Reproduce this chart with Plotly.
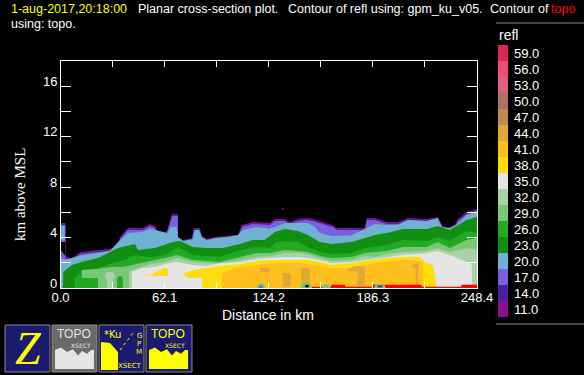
import plotly.graph_objects as go

W, H = 584, 375
LEVELS = ["11.0","14.0","17.0","20.0","23.0","26.0","29.0","32.0","35.0","38.0","41.0","44.0","47.0","50.0","53.0","56.0","59.0"]
COLORS = ["#8b1090","#4b1fa0","#7b5fe0","#70b0d0","#128f12","#22aa22","#78c878","#a8d3a8","#e5e5e5","#ffdd0a","#fdbe1e","#e0a838","#c08a50","#a87660","#e0607e","#f44a77","#d9294f"]
C = dict(zip(LEVELS, COLORS))
X_TICKS = [0, 31.05, 62.1, 93.15, 124.2, 155.25, 186.3, 217.35, 248.4]
X_TICK_TEXT = ["0.0", "", "62.1", "", "124.2", "", "186.3", "", "248.4"]
Y_TICKS = [0, 2, 4, 6, 8, 10, 12, 14, 16]
Y_LABELS = [0, 4, 8, 12, 16]

X_11 = [0,2.9,2.9,5.7,6.9,11.9,18.8,28.3,33.7,35.5,40.2,49.2,53.3,56.3,58.1,62.3,63.5,66.5,70,70.1,73,78.4,79.6,83.1,84.3,87.3,92.1,105.8,108.2,114.7,124.9,127.8,133.8,136.8,141.6,146.9,150.5,155.9,162.4,164.8,181.5,182.7,187.4,194.6,201.2,207.1,218.4,225,228,231,235.1,236.9,242.3,248.4]
H_11 = [5.16,5.16,2.54,2.38,2.38,2.86,2.94,3.1,3.25,4.05,4.76,4.76,5.08,4.92,4.52,4.44,4.52,5.87,5.87,4.05,3.81,3.97,4.76,4.76,4.13,3.89,4.05,4.21,4.99,5.24,5.16,5.48,5.48,5.24,5.48,5.56,5.48,5.24,5.0,4.76,4.76,5.56,5.56,5.24,5.24,5.56,5.48,5.63,4.92,4.76,5.0,5.48,6.03,6.27]
H_14 = [5.08,5.08,2.46,2.3,2.3,2.78,2.86,3.02,3.17,3.97,4.68,4.68,5.0,4.84,4.44,4.37,4.44,5.79,5.79,3.97,3.73,3.89,4.68,4.68,4.05,3.81,3.97,4.13,4.92,5.16,5.08,5.4,5.4,5.16,5.4,5.48,5.4,5.16,4.92,4.68,4.68,5.48,5.48,5.16,5.16,5.48,5.4,5.56,4.84,4.68,4.92,5.4,5.95,6.19]
H_17 = [5.0,5.0,2.38,2.22,2.22,2.7,2.78,2.94,3.1,3.89,4.6,4.6,4.92,4.76,4.37,4.29,4.37,5.71,5.71,3.89,3.65,3.81,4.6,4.6,3.97,3.73,3.89,4.05,4.84,5.08,5.0,5.32,5.32,5.08,5.32,5.4,5.32,5.08,4.84,4.6,4.6,5.4,5.4,5.08,5.08,5.4,5.32,5.48,4.76,4.6,4.84,5.32,5.87,6.11]
X_20 = [0,2.7,12.8,18.8,29.5,34.3,40.2,48.6,53.3,56.3,62.3,63.5,65.9,69.4,70,73,79,80.2,82.5,84.3,87.3,92.1,99.3,105.8,108.8,117.1,124.9,133.8,141.6,147.5,151.7,154.7,161.8,173.7,181.5,187.4,194.6,201.2,207.1,218.4,225,227.4,232.1,236.9,242.3,248.4]
H_20 = [2.38,2.22,2.62,2.7,2.94,3.65,4.37,4.44,4.68,4.6,4.37,4.37,4.84,4.84,4.05,3.73,3.89,4.6,4.6,4.05,3.81,3.97,4.05,4.21,4.6,4.84,4.7,5.16,5.16,5.16,4.84,4.37,4.13,4.21,4.68,5.08,5.0,5.0,5.4,5.32,5.56,4.84,4.76,5.08,5.79,6.03]
X_23 = [0,1.5,1.6,6.9,14.6,22.4,29.5,34.3,44.4,46.2,56.3,62.3,67.1,71.2,79,87.3,96.9,107,114.7,121.9,127.8,133.8,141.6,147.5,154.7,161.8,173.7,181.5,187.4,194.6,204.1,218.4,225,232.1,242.3,248.4]
H_23 = [0,0,1.27,1.83,2.14,2.38,2.86,3.17,3.49,3.02,3.17,3.41,3.65,3.73,3.25,3.17,3.17,3.49,3.81,3.81,4.44,4.68,4.52,4.21,3.65,3.49,3.65,3.97,4.21,4.37,4.68,4.68,4.92,4.6,5.4,5.63]
X_26 = [8.4,8.5,12.8,22.4,29.5,38.2,44.4,52.1,62.3,70,79,95.1,107,117.1,124.9,127.8,133.8,141.6,147.5,154.7,161.8,173.7,181.5,187.4,194.6,204.1,218.4,225,232.1,242.3,248.4]
H_26 = [0,0.79,1.43,1.59,1.9,2.22,2.62,2.46,2.62,3.25,2.62,2.46,3.02,3.25,3.17,3.57,3.73,3.65,3.25,2.86,2.7,2.78,3.17,3.25,3.41,3.81,3.73,4.05,3.73,4.52,4.37]
X_29 = [12.8,12.8,22.4,29.5,37,44.4,56.3,62.3,69.4,79,95.1,107,117.1,124.9,133.8,141.6,147.5,154.7,161.8,173.7,181.5,187.4,194.6,204.1,218.4,225,232.1,242.3,248.4]
H_29 = [0,1.43,1.51,1.67,1.67,1.9,2.22,2.38,2.62,2.22,2.06,2.46,2.78,2.78,3.02,2.94,2.86,2.54,2.38,2.46,2.78,2.86,2.94,3.25,3.25,3.65,3.17,3.81,3.97]
X_32 = [40.8,40.8,42.6,53.3,62.3,69.4,79,95.1,107,117.1,124.9,133.8,141.6,147.5,154.7,161.8,173.7,181.5,187.4,194.6,204.1,218.4,225,232.1,242.3,248.4]
H_32 = [0,1.27,1.43,1.9,2.06,2.38,2.06,1.9,2.22,2.46,2.54,2.78,2.78,2.7,2.38,2.14,2.22,2.54,2.46,2.7,2.86,2.94,3.17,2.86,3.17,3.02]
X_35 = [42.6,42.6,48.6,56.3,62.3,69.4,79,87.3,95.1,107,117.1,124.9,133.8,141.6,147.5,154.7,161.8,173.7,181.5,187.4,194.6,204.1,218.4,225,232.1,242.3,245.3,245.4]
H_35 = [0,1.27,1.59,1.67,1.9,2.06,1.83,1.75,1.98,2.06,2.3,2.38,2.46,2.46,2.38,2.22,1.98,2.06,2.22,2.3,2.46,2.62,2.78,2.94,2.62,2.06,1.9,0]
X_38 = [73,77.2,83.1,95.1,107,117.1,124.9,133.8,147.5,154.7,161.8,173.7,181.5,187.4,194.6,204.1,214.3,217.2,222,224.4,224.4,84.3,84.3,76.5]
H_38 = [1.11,1.35,1.51,1.75,1.9,2.14,2.22,2.22,2.22,2.06,1.83,1.98,2.14,2.22,2.38,2.46,2.46,2.06,1.83,0.08,0,0,0.79,0.79]
X_38B = [47.4,54,58,62,64,64,57]
H_38B = [1.05,1.05,1.35,1.6,1.5,0.95,0.95]
X_41 = [96.3,96.3,97.4,104,112.9,121.9,133.8,141.6,147.5,154.7,161.8,173.7,181.5,187.4,194.6,204.1,210.1,215.5,216,216.6]
H_41 = [0,1.03,1.27,1.59,1.75,1.9,1.98,1.98,1.9,1.75,1.59,1.59,1.83,1.98,2.06,2.22,2.22,2.06,1.8,0]
PATCH_X_44 = [[132.6,137.4,137.4,132.6],[143.3,148.7,148.7,143.6],[118.9,124.9,124.9,118.9],[171.3,176,181.5,181.5,177,177,171.3],[210.1,213.7,213.7,213.1,213.1,211.9,211.9,210.1]]
PATCH_H_44 = [[1.19,1.19,0.1,0.1],[1.59,1.59,0.25,0.25],[1.59,1.59,1.27,1.27],[1.5,1.75,1.75,0.1,0.1,1.3,1.3],[1.9,1.9,1.59,1.59,0.08,0.08,1.59,1.59]]
PATCH_X_26 = [[12.8,22.4,22.4,12.8],[33.7,34.5,36.5,37.2,37.2,33.7]]
PATCH_H_26 = [[0.8,0.8,0,0],[0.7,0.95,0.95,0.7,0,0]]
PATCH_X_32 = [26.5,27.5,31,32.5,31.5,31.5,27.8,27.8]
PATCH_H_32 = [1.0,1.27,1.27,1.0,0.6,0,0,0.6]
COL_X_20 = [0.4,2.5,2.5,0.4]
COL_H_20 = [4.92,4.92,3.8,3.8]
GAP_X = [0,2.9,2.9,0]
GAP_H = [3.65,3.65,2.54,3.02]
TOPO_X = [149.7,161.5,161.6,169.6,169.7,186.3,186.4,215.3,215.4,239,239.1,248.4]
TOPO_H = [0.1,0.1,0.25,0.25,0.1,0.1,0.25,0.25,0.1,0.1,0.25,0.25]
BUMP_X = [[117,118,121,122],[143,144.5,149,150],[156,157,160,161],[187,188,193,194]]
BUMP_H = [[0,0.35,0.35,0],[0,0.4,0.4,0],[0,0.3,0.3,0],[0,0.3,0.3,0]]
CORE_X = [[118.5,120.5,120.5,118.5],[146,148,148,146],[157.5,159.5,159.5,157.5],[189,192,192,189]]
CORE_H = [[0.2,0.2,0,0],[0.25,0.25,0.05,0.05],[0.15,0.15,0,0],[0.2,0.2,0.05,0.05]]
CORE_C = ["#7b5fe0", "#000000", "#70b0d0", "#4b1fa0"]
DOT_X = [132.6]
DOT_H = [6.27]

fig = go.Figure()

def band(x, h, color, fill="toself", close=True):
    xs = list(x); hs = list(h)
    if close:
        xs = [xs[0]] + xs + [xs[-1]]
        hs = [0] + hs + [0]
    fig.add_trace(go.Scatter(x=xs, y=hs, mode="lines", line=dict(width=0, color=color),
                             fill=fill, fillcolor=color, hoverinfo="skip", showlegend=False))

for x, h, lv in [(X_11, H_11, "11.0"), (X_11, H_14, "14.0"), (X_11, H_17, "17.0"), (X_20, H_20, "20.0"),
                 (X_23, H_23, "23.0"), (X_26, H_26, "26.0"), (X_29, H_29, "29.0")]:
    band(x, h, C[lv])
for x, h in zip(PATCH_X_26, PATCH_H_26):
    band(x, h, C["26.0"], close=False)
band(PATCH_X_32, PATCH_H_32, C["32.0"], close=False)
band(X_32, H_32, C["32.0"])
band(X_35, H_35, C["35.0"])
band(X_38, H_38, C["38.0"], close=False)
band(X_38B, H_38B, C["38.0"], close=False)
band(X_41, H_41, C["41.0"])
for x, h in zip(PATCH_X_44, PATCH_H_44):
    band(x, h, C["44.0"], close=False)
band(COL_X_20, COL_H_20, C["20.0"], close=False)
band(GAP_X, GAP_H, "#000000", close=False)
band(TOPO_X, TOPO_H, "#ff0000")
for x, h, c in zip(BUMP_X, BUMP_H, CORE_C):
    band(x, h, C["29.0"], close=False)
for x, h, c in zip(CORE_X, CORE_H, CORE_C):
    band(x, h, c, close=False)
fig.add_trace(go.Scatter(x=DOT_X, y=DOT_H, mode="markers", marker=dict(size=2, color=C["11.0"]),
                         hoverinfo="skip", showlegend=False))

fig.add_trace(go.Bar(x=[1] * len(LEVELS), y=LEVELS, orientation="h", marker=dict(color=COLORS, line=dict(width=0)),
                     width=1, xaxis="x2", yaxis="y2", hoverinfo="skip", showlegend=False))

FONT = "Liberation Sans"
def fx(p): return p / W
def fy(p): return 1 - p / H

anns = []
def text(px, py, s, color="white", size=12.5, family=FONT, anchor="left", angle=0):
    anns.append(dict(xref="paper", yref="paper", x=fx(px), y=fy(py), text=s, showarrow=False, textangle=angle,
                     xanchor=anchor, yanchor="middle", borderpad=0, font=dict(color=color, size=size, family=family)))

text(10, 9, "1-aug-2017,20:18:00", "#ffff00")
text(137, 9, "Planar cross-section plot.")
text(287, 9, "Contour of refl using: gpm_ku_v05.")
text(489, 9, "Contour of")
text(550, 9, "topo", "#ff0000")
text(10, 24, "using: topo.")
text(268, 315, "Distance in km", anchor="center", size=14)
text(20, 195, "km above MSL", size=15, family="Liberation Serif", anchor="center", angle=-90)
text(498, 35, "refl", size=14)

for v in Y_LABELS:
    anns.append(dict(xref="paper", yref="y", x=fx(58), y=v, yshift=5, text=str(v), showarrow=False, xanchor="right",
                     yanchor="middle", borderpad=0, font=dict(color="white", size=13, family=FONT)))

shapes = []
def rect(x0, y0, x1, y1, fill, line=None, lw=0):
    shapes.append(dict(type="rect", xref="paper", yref="paper", x0=fx(x0), x1=fx(x1), y0=fy(y1), y1=fy(y0),
                       fillcolor=fill, line=dict(color=line or fill, width=lw), layer="above"))
def poly(pts, fill):
    path = "M " + " L ".join(f"{fx(a):.5f},{fy(b):.5f}" for a, b in pts) + " Z"
    shapes.append(dict(type="path", xref="paper", yref="paper", path=path, fillcolor=fill,
                       line=dict(width=0), layer="above"))

for yy in (23, 324):
    shapes.append(dict(type="line", xref="paper", yref="paper", x0=fx(496), x1=1, y0=fy(yy), y1=fy(yy),
                       line=dict(color="#888888", width=1)))

NAVY = "#1a1a6e"
rect(5, 325, 50, 372, NAVY, "#888888", 1)
rect(52, 325, 97, 372, "#6a6a6a", "#888888", 1)
rect(99, 325, 144, 372, NAVY, "#888888", 1)
rect(146, 325, 192, 372, NAVY, "#888888", 1)
text(27.5, 348, "<i>Z</i>", "#ffff00", size=46, family="Liberation Serif", anchor="center")
mount = [(0,0),(0,21),(6,24),(12,19),(18,22),(23,15),(27,20),(32,17),(36,21),(39,21),(39,0)]
for ox, fill, tc in [(55, "#e5e5e5", "#e5e5e5"), (149, "#ffff00", "#ffff00")]:
    poly([(ox + a, 369 - b * 0.9) for a, b in mount], fill)
    text(ox + 19, 334, "TOPO", tc, size=12, anchor="center")
    text(ox + 26, 345, "XSECT", tc, size=6, anchor="center", family="DejaVu Sans")
poly([(101, 370), (101, 342), (110, 343), (118, 352), (118, 370)], "#ffff00")
text(112, 334, "*Ku", "#ffff00", size=10, anchor="center", family="DejaVu Sans")
text(139, 336, "G", "#ffff00", size=7, anchor="center", family="DejaVu Sans")
text(139, 344, "P", "#ffff00", size=7, anchor="center", family="DejaVu Sans")
text(139, 352, "M", "#ffff00", size=7, anchor="center", family="DejaVu Sans")
text(130, 366, "XSECT", "#ffff00", size=7, anchor="center", family="DejaVu Sans")
shapes.append(dict(type="line", xref="paper", yref="paper", x0=fx(120), y0=fy(350), x1=fx(133), y1=fy(333),
                   line=dict(color="#ffff00", width=1, dash="dot"), layer="above"))

axis_common = dict(showgrid=False, zeroline=False, showline=True, linecolor="white", linewidth=1, mirror="allticks",
                   ticks="inside", tickcolor="white", tickwidth=1)
fig.update_layout(
    width=W, height=H, margin=dict(l=0, r=0, t=0, b=0, autoexpand=False), paper_bgcolor="black", plot_bgcolor="black",
    showlegend=False, annotations=anns, shapes=shapes, bargap=0,
    xaxis=dict(domain=[60.5 / W, 477 / W], range=[0, 248.4], tickmode="array", tickvals=X_TICKS, ticktext=X_TICK_TEXT,
               ticklen=6, ticklabelstandoff=-3, tickfont=dict(color="white", size=13, family=FONT), **axis_common),
    yaxis=dict(domain=[1 - 288 / H, 1 - 61 / H], range=[0, 18], tickmode="array", tickvals=Y_TICKS,
               ticktext=[""] * len(Y_TICKS), ticklen=10, **axis_common),
    xaxis2=dict(domain=[498 / W, 508 / W], range=[0, 1], anchor="y2", visible=False),
    yaxis2=dict(domain=[1 - 317 / H, 1 - 45 / H], anchor="x2", side="right", type="category", categoryorder="array",
                categoryarray=LEVELS, ticks="", showgrid=False, zeroline=False, showline=False, ticklabelstandoff=5,
                tickfont=dict(color="white", size=13, family=FONT)),
)
fig.write_html("out.html", config={"displayModeBar": False},
               post_script="document.body.style.margin='0';document.body.style.overflow='hidden';document.documentElement.style.background='black';")
